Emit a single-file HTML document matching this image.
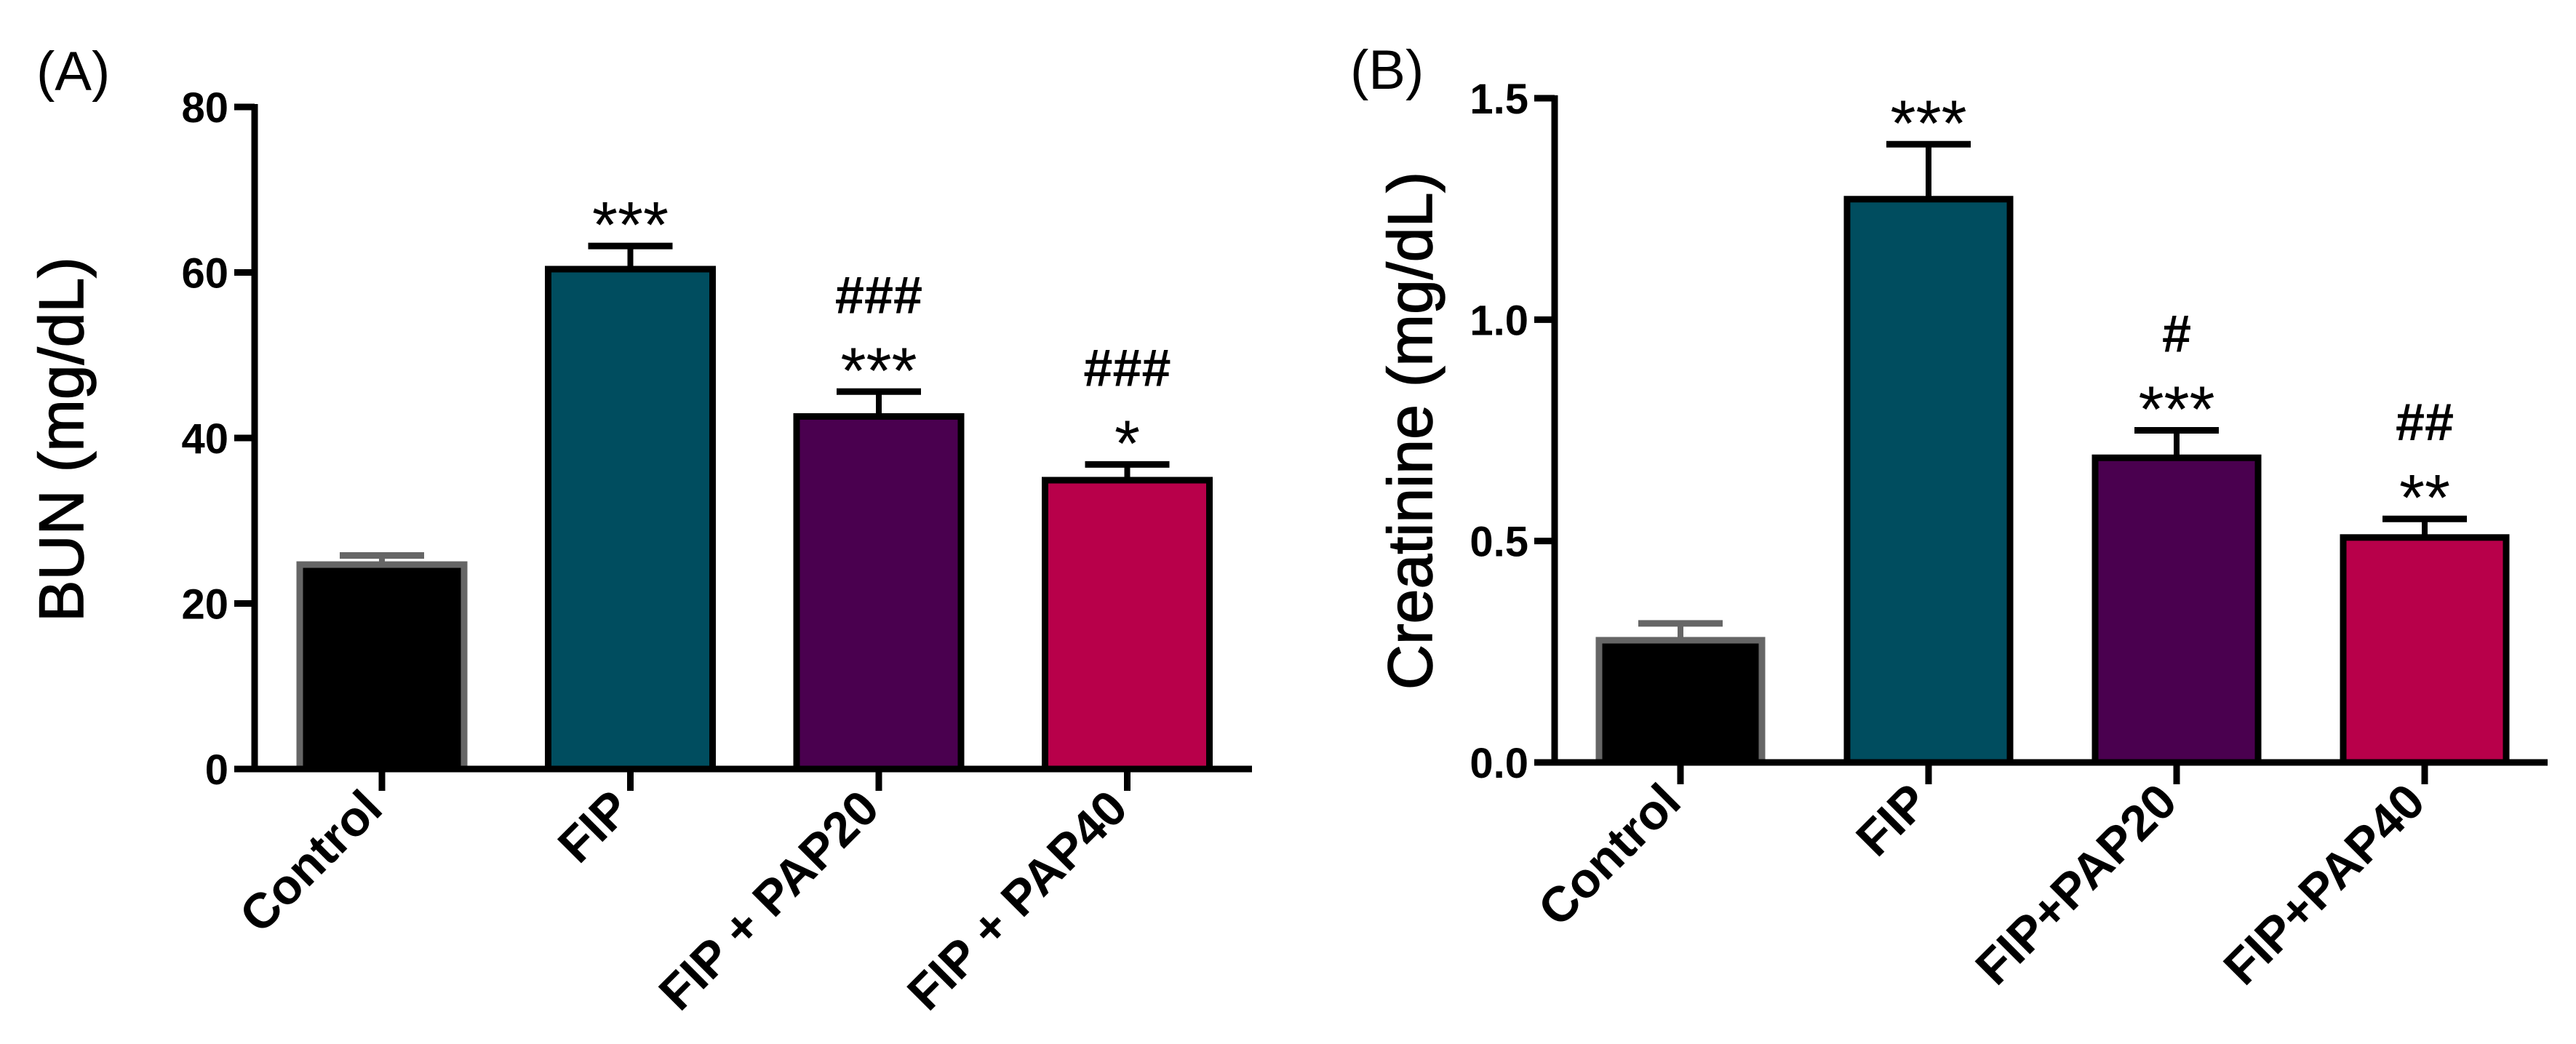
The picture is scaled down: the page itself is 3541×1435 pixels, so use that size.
<!DOCTYPE html>
<html><head><meta charset="utf-8"><style>
html,body{margin:0;padding:0;background:#fff;}
svg{display:block;font-family:"Liberation Sans",Arial,sans-serif;}
</style></head><body>
<svg id="chart" width="3541" height="1435" viewBox="0 0 3541 1435" xmlns="http://www.w3.org/2000/svg">
<text x="50" y="124" font-size="76">(A)</text>
<text x="1856" y="122" font-size="76">(B)</text>
<text transform="translate(114,604) rotate(-90)" text-anchor="middle" font-size="86" stroke="#000" stroke-width="1.5">BUN (mg/dL)</text>
<text transform="translate(1968,592) rotate(-90)" text-anchor="middle" font-size="86" stroke="#000" stroke-width="1.5">Creatinine (mg/dL)</text>
</svg>
<script>
const categoriesA = ["Control", "FIP", "FIP + PAP20", "FIP + PAP40"];
const valuesA = [24.7, 60.4, 42.6, 34.9];
const errorsA = [1.1, 2.8, 3.0, 1.9];
const ticksA = [0, 20, 40, 60, 80];
const tickLabelsA = ["0", "20", "40", "60", "80"];
const annotA = [[], ["***"], ["***", "###"], ["*", "###"]];

const categoriesB = ["Control", "FIP", "FIP+PAP20", "FIP+PAP40"];
const valuesB = [0.276, 1.272, 0.688, 0.508];
const errorsB = [0.038, 0.124, 0.062, 0.042];
const ticksB = [0, 0.5, 1.0, 1.5];
const tickLabelsB = ["0.0", "0.5", "1.0", "1.5"];
const annotB = [[], ["***"], ["***", "#"], ["**", "##"]];

const colors = ["#000000", "#004d5f", "#4a004f", "#b8004a"];
const NS = "http://www.w3.org/2000/svg";
const svg = document.getElementById("chart");

function mk(tag, attrs, parent) {
  const e = document.createElementNS(NS, tag);
  for (const k in attrs) e.setAttribute(k, attrs[k]);
  (parent || svg).appendChild(e);
  return e;
}

function panel(p) {
  const g = mk("g", {});
  
  
  const y = v => p.y0 - (v - p.min) / (p.max - p.min) * (p.y0 - p.yTop);
  const x = i => p.xFirst + i * p.step;
  const ya = mk("line", {x1: p.ax, y1: y(p.max) - 4, x2: p.ax, y2: p.y0 + 4, stroke: "#000", "stroke-width": 9}, g);
  
  
  p.ticks.forEach((t, i) => {
    const tl = mk("line", {x1: p.ax - 28, y1: y(t), x2: p.ax, y2: y(t), stroke: "#000", "stroke-width": 9}, g);
    
    
    const tx = mk("text", {x: p.ax - 36, y: y(t) + 21, "text-anchor": "end", "font-size": 58, "font-weight": "bold"}, g);
    tx.textContent = p.tickLabels[i];
    
    
  });
  p.values.forEach((v, i) => {
    const cx = x(i);
    const top = y(v);
    const et = y(v + p.errors[i]);
    const stroke = i === 0 ? "#666" : "#000";
    const eb = mk("line", {x1: cx, y1: top, x2: cx, y2: et, stroke: stroke, "stroke-width": 8}, g);
    
    
    const cap = mk("line", {x1: cx - 58, y1: et, x2: cx + 58, y2: et, stroke: stroke, "stroke-width": 9}, g);
    
    
    const r = mk("rect", {x: cx - p.bw / 2, y: top, width: p.bw, height: p.y0 - top, fill: colors[i], stroke: stroke, "stroke-width": 9}, g);
    
    
    p.annot[i].forEach((s, k) => {
      const star = s.indexOf("*") >= 0;
      const t = mk("text", {x: cx, y: et - 34 - k * 74 + (star ? 36 : 0), "text-anchor": "middle", "font-size": star ? 90 : 72, "font-weight": star ? "normal" : "bold"}, g);
      t.textContent = s;
      
      
    });
    const xt = mk("line", {x1: cx, y1: p.y0, x2: cx, y2: p.y0 + 30, stroke: "#000", "stroke-width": 9}, g);
    
    
    const lx = cx + 4, ly = p.y0 + 58;
    const lab = mk("text", {x: lx, y: ly, transform: "rotate(-45 " + lx + " " + ly + ")", "text-anchor": "end", "font-size": 68, "font-weight": "bold"}, g);
    lab.textContent = p.cats[i];
    
    
  });
  const xa = mk("line", {x1: p.ax - 4, y1: p.y0, x2: p.xEnd, y2: p.y0, stroke: "#000", "stroke-width": 9}, g);
  
  
}

panel({id: "bun", ax: 350, xEnd: 1721, y0: 1057, yTop: 147, min: 0, max: 80, xFirst: 525, step: 341.5, bw: 226,
  values: valuesA, errors: errorsA, ticks: ticksA, tickLabels: tickLabelsA, annot: annotA, cats: categoriesA});
panel({id: "creatinine", ax: 2137, xEnd: 3502, y0: 1048, yTop: 135, min: 0, max: 1.5, xFirst: 2310, step: 341, bw: 224,
  values: valuesB, errors: errorsB, ticks: ticksB, tickLabels: tickLabelsB, annot: annotB, cats: categoriesB});
</script>
</body></html>
